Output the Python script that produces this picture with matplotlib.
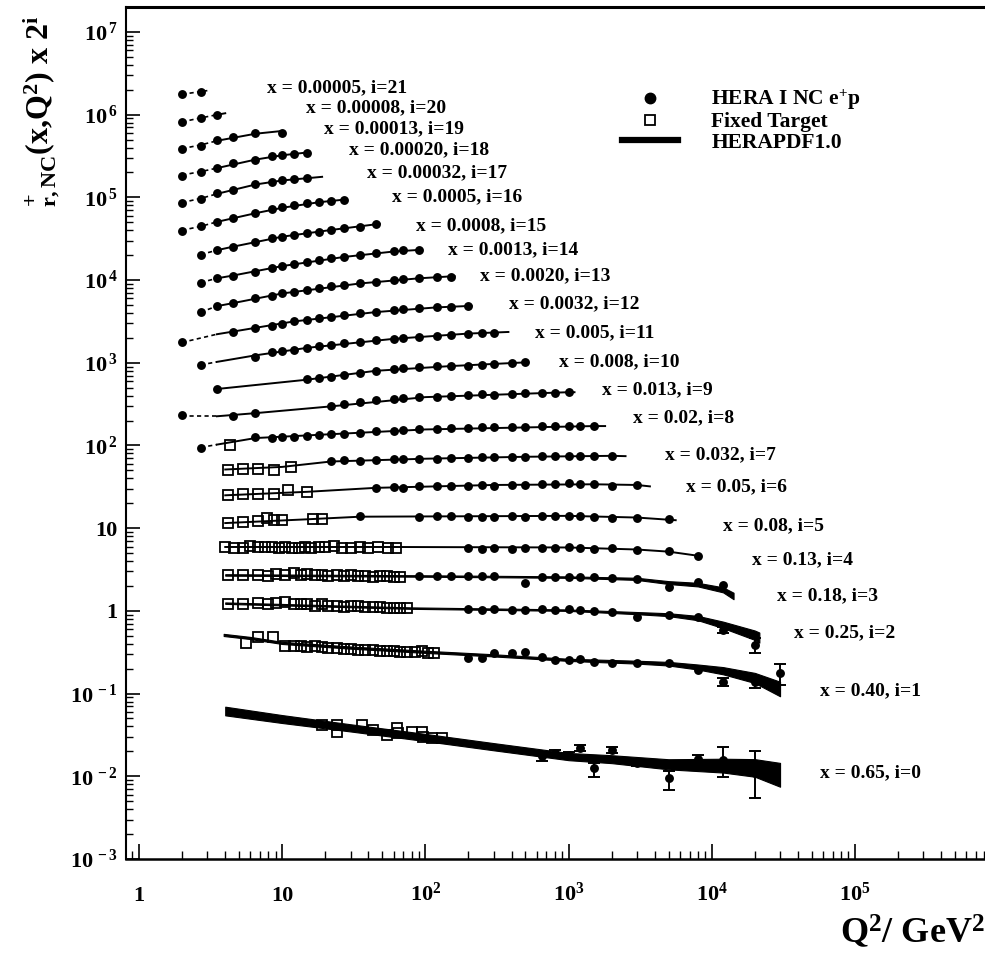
import numpy as np
import matplotlib
matplotlib.use('Agg')
import matplotlib.pyplot as plt
from matplotlib.lines import Line2D
from matplotlib.ticker import LogLocator, NullFormatter

plt.rcParams['font.family'] = ['Liberation Serif', 'DejaVu Serif']
plt.rcParams['font.weight'] = 'bold'
plt.rcParams['axes.labelweight'] = 'bold'
plt.rcParams['mathtext.fontset'] = 'custom'
plt.rcParams['mathtext.rm'] = 'Liberation Serif:bold'
plt.rcParams['mathtext.it'] = 'Liberation Serif:bold'
plt.rcParams['mathtext.bf'] = 'Liberation Serif:bold'
plt.rcParams['mathtext.default'] = 'rm'

# x values of the bins, i = 0 .. 21
bin_x = ['0.65', '0.40', '0.25', '0.18', '0.13', '0.08', '0.05', '0.032', '0.02',
         '0.013', '0.008', '0.005', '0.0032', '0.0020', '0.0013', '0.0008', '0.0005',
         '0.00032', '0.00020', '0.00013', '0.00008', '0.00005']

# ---- HERA I NC e+p (Q2, sigma_r) ----
hq21 = [2, 2.7]
hs21 = [0.84, 0.90]
hq20 = [2, 2.7, 3.5]
hs20 = [0.78, 0.87, 0.95]
hq19 = [2, 2.7, 3.5, 4.5, 6.5, 10]
hs19 = [0.73, 0.80, 0.93, 1.02, 1.14, 1.14]
hq18 = [2, 2.7, 3.5, 4.5, 6.5, 8.5, 10, 12, 15]
hs18 = [0.70, 0.78, 0.86, 0.98, 1.09, 1.19, 1.24, 1.29, 1.32]
hq17 = [2, 2.7, 3.5, 4.5, 6.5, 8.5, 10, 12, 15]
hs17 = [0.65, 0.73, 0.86, 0.94, 1.10, 1.18, 1.23, 1.27, 1.30]
hq16 = [2, 2.7, 3.5, 4.5, 6.5, 8.5, 10, 12, 15, 18, 22, 27]
hs16 = [0.60, 0.68, 0.77, 0.85, 0.98, 1.09, 1.16, 1.23, 1.30, 1.35, 1.37, 1.42]
hq15 = [2.7, 3.5, 4.5, 6.5, 8.5, 10, 12, 15, 18, 22, 27, 35, 45]
hs15 = [0.61, 0.71, 0.76, 0.89, 0.98, 1.01, 1.07, 1.12, 1.17, 1.23, 1.29, 1.35, 1.44]
hq14 = [2.7, 3.5, 4.5, 6.5, 8.5, 10, 12, 15, 18, 22, 27, 35, 45, 60, 70, 90]
hs14 = [0.56, 0.64, 0.69, 0.77, 0.85, 0.90, 0.96, 1.02, 1.07, 1.12, 1.15, 1.23, 1.29, 1.36, 1.39, 1.41]
hq13 = [2.7, 3.5, 4.5, 6.5, 8.5, 10, 12, 15, 18, 22, 27, 35, 45, 60, 70, 90, 120, 150]
hs13 = [0.50, 0.59, 0.64, 0.74, 0.79, 0.85, 0.88, 0.93, 0.97, 1.02, 1.07, 1.12, 1.17, 1.22, 1.25, 1.28, 1.32, 1.34]
hq12 = [2, 4.5, 6.5, 8.5, 10, 12, 15, 18, 22, 27, 35, 45, 60, 70, 90, 120, 150, 200]
hs12 = [0.43, 0.58, 0.64, 0.67, 0.72, 0.77, 0.81, 0.84, 0.88, 0.92, 0.97, 1.00, 1.06, 1.08, 1.11, 1.14, 1.16, 1.19]
hq11 = [2.7, 6.5, 8.5, 10, 12, 15, 18, 22, 27, 35, 45, 60, 70, 90, 120, 150, 200, 250, 300]
hs11 = [0.46, 0.58, 0.65, 0.68, 0.70, 0.73, 0.78, 0.80, 0.84, 0.87, 0.91, 0.95, 0.97, 1.01, 1.04, 1.06, 1.10, 1.12, 1.13]
hq10 = [3.5, 15, 18, 22, 27, 35, 45, 60, 70, 90, 120, 150, 200, 250, 300, 400, 500]
hs10 = [0.47, 0.62, 0.64, 0.66, 0.69, 0.74, 0.78, 0.82, 0.84, 0.86, 0.88, 0.89, 0.90, 0.92, 0.93, 0.96, 0.99]
hq9 = [2, 4.5, 6.5, 22, 27, 35, 45, 60, 70, 90, 120, 150, 200, 250, 300, 400, 500, 650, 800, 1000]
hs9 = [0.46, 0.44, 0.48, 0.58, 0.62, 0.66, 0.69, 0.71, 0.73, 0.75, 0.76, 0.78, 0.80, 0.81, 0.80, 0.82, 0.835, 0.845, 0.85, 0.86]
hq8 = [2.7, 6.5, 8.5, 10, 12, 15, 18, 22, 27, 35, 45, 60, 70, 90, 120, 150, 200, 250, 300, 400, 500, 650, 800, 1000, 1200, 1500]
hs8 = [0.365, 0.495, 0.48, 0.50, 0.49, 0.51, 0.52, 0.53, 0.54, 0.56, 0.58, 0.59, 0.60, 0.61, 0.62, 0.63, 0.64, 0.645, 0.65, 0.655, 0.66, 0.665, 0.67, 0.675, 0.68, 0.67]
hq7 = [22, 27, 35, 45, 60, 70, 90, 120, 150, 200, 250, 300, 400, 500, 650, 800, 1000, 1200, 1500, 2000]
hs7 = [0.50, 0.52, 0.51, 0.52, 0.53, 0.53, 0.54, 0.54, 0.55, 0.55, 0.56, 0.56, 0.57, 0.57, 0.58, 0.58, 0.58, 0.59, 0.58, 0.58]
hq6 = [45, 60, 70, 90, 120, 150, 200, 250, 300, 400, 500, 650, 800, 1000, 1200, 1500, 2000, 3000]
hs6 = [0.48, 0.49, 0.48, 0.50, 0.50, 0.51, 0.51, 0.52, 0.51, 0.52, 0.52, 0.53, 0.53, 0.55, 0.53, 0.54, 0.51, 0.52]
hq5 = [35, 90, 120, 150, 200, 250, 300, 400, 500, 650, 800, 1000, 1200, 1500, 2000, 3000, 5000]
hs5 = [0.44, 0.43, 0.44, 0.44, 0.43, 0.43, 0.43, 0.44, 0.43, 0.44, 0.44, 0.44, 0.44, 0.43, 0.42, 0.42, 0.40]
hq4 = [200, 250, 300, 400, 500, 650, 800, 1000, 1200, 1500, 2000, 3000, 5000, 8000]
hs4 = [0.36, 0.35, 0.36, 0.35, 0.36, 0.36, 0.36, 0.37, 0.36, 0.35, 0.36, 0.34, 0.33, 0.29]
hq3 = [90, 120, 150, 200, 250, 300, 500, 650, 800, 1000, 1200, 1500, 2000, 3000, 5000, 8000, 12000]
hs3 = [0.33, 0.33, 0.33, 0.33, 0.33, 0.33, 0.27, 0.32, 0.32, 0.32, 0.32, 0.32, 0.31, 0.30, 0.24, 0.28, 0.26]
hq2 = [200, 250, 300, 400, 500, 650, 800, 1000, 1200, 1500, 2000, 3000, 5000, 8000, 12000, 20000]
hs2 = [0.26, 0.255, 0.26, 0.255, 0.255, 0.26, 0.255, 0.26, 0.255, 0.25, 0.245, 0.21, 0.22, 0.21, 0.147, 0.097]
he2 = [0, 0, 0, 0, 0, 0, 0, 0, 0, 0, 0, 0, 0, 0, 0.012, 0.02]
hq1 = [200, 250, 300, 400, 500, 650, 800, 1000, 1200, 1500, 2000, 3000, 5000, 8000, 12000, 20000, 30000]
hs1 = [0.135, 0.134, 0.155, 0.156, 0.16, 0.14, 0.127, 0.127, 0.13, 0.122, 0.117, 0.117, 0.117, 0.096, 0.069, 0.069, 0.089]
he1 = [0, 0, 0, 0, 0, 0, 0, 0, 0, 0, 0, 0, 0, 0, 0.008, 0.01, 0.025]
hq0 = [650, 800, 1000, 1200, 1500, 2000, 3000, 5000, 8000, 12000, 20000]
hs0 = [0.0175, 0.019, 0.0181, 0.022, 0.0126, 0.0208, 0.0145, 0.0095, 0.0162, 0.0158, 0.011]
he0_lo = [0.002, 0.002, 0.0015, 0.002, 0.0028, 0.0015, 0.001, 0.0027, 0.0034, 0.006, 0.0055]
he0_hi = [0.002, 0.002, 0.0015, 0.002, 0.002, 0.0015, 0.001, 0.002, 0.0021, 0.007, 0.0094]

# ---- Fixed target (Q2, sigma_r) ----
fq8 = [4.3]
fs8 = [0.40]
fq7 = [4.2, 5.3, 6.8, 8.7, 11.5]
fs7 = [0.395, 0.40, 0.40, 0.395, 0.43]
fq6 = [4.2, 5.3, 6.8, 8.7, 11, 15]
fs6 = [0.39, 0.40, 0.40, 0.41, 0.45, 0.43]
fq5 = [4.2, 5.3, 6.8, 7.8, 8.7, 10, 16.5, 19]
fs5 = [0.36, 0.37, 0.38, 0.41, 0.39, 0.39, 0.40, 0.40]
fq4 = [4.0, 4.6, 5.3, 6.0, 6.8, 7.6, 8.5, 9.5, 10.5, 11.7, 13, 14.5, 16, 18, 20, 23, 26, 30, 35, 40, 47, 55, 62]
fs4 = [0.37, 0.36, 0.36, 0.38, 0.37, 0.37, 0.37, 0.36, 0.37, 0.36, 0.36, 0.37, 0.36, 0.37, 0.37, 0.38, 0.36, 0.36, 0.37, 0.36, 0.37, 0.36, 0.36]
fq3 = [4.2, 5.3, 6.8, 8, 9, 10.5, 12, 13.5, 15, 17, 19, 21, 24, 27, 30, 34, 38, 43, 48, 54, 60, 67]
fs3 = [0.34, 0.34, 0.34, 0.33, 0.35, 0.34, 0.36, 0.34, 0.35, 0.34, 0.34, 0.33, 0.34, 0.33, 0.34, 0.33, 0.33, 0.32, 0.33, 0.33, 0.32, 0.32]
fq2 = [4.2, 5.3, 6.8, 8, 9, 10.5, 12, 13.5, 15, 17, 19, 21, 24, 27, 30, 34, 38, 43, 48, 54, 60, 67, 75]
fs2 = [0.30, 0.30, 0.31, 0.30, 0.31, 0.32, 0.30, 0.30, 0.30, 0.29, 0.30, 0.29, 0.29, 0.28, 0.29, 0.29, 0.28, 0.28, 0.28, 0.27, 0.27, 0.27, 0.27]
fq1 = [5.6, 6.8, 8.6, 10.5, 12, 13.5, 15, 17, 19, 21, 24, 27, 30, 34, 38, 43, 48, 54, 60, 67, 75, 84, 95, 105, 115]
fs1 = [0.205, 0.242, 0.242, 0.19, 0.19, 0.19, 0.185, 0.19, 0.183, 0.18, 0.18, 0.175, 0.175, 0.17, 0.17, 0.168, 0.165, 0.165, 0.163, 0.16, 0.16, 0.158, 0.163, 0.156, 0.155]
fq0 = [19, 24, 24, 36, 43, 54, 63, 64, 81, 95, 96, 112, 131]
fs0 = [0.0417, 0.0417, 0.0343, 0.0417, 0.0363, 0.0314, 0.0384, 0.0333, 0.0343, 0.0343, 0.0298, 0.029, 0.029]

# ---- HERAPDF1.0 (Q2 nodes, sigma_r, relative band half width) ----
tq21 = [2, 3.0]
ts21 = [0.84, 0.93]
tq20 = [2, 2.7, 3.5, 4.0]
ts20 = [0.78, 0.87, 0.95, 0.99]
tq19 = [2, 2.7, 3.5, 6.5, 10]
ts19 = [0.74, 0.82, 0.92, 1.12, 1.21]
tq18 = [2, 2.7, 3.5, 6.5, 10, 15]
ts18 = [0.71, 0.78, 0.86, 1.09, 1.23, 1.33]
tq17 = [2, 2.7, 3.5, 6.5, 10, 15, 19]
ts17 = [0.66, 0.74, 0.84, 1.09, 1.22, 1.30, 1.35]
tq16 = [2, 2.7, 3.5, 6.5, 10, 18, 28]
ts16 = [0.61, 0.68, 0.77, 0.98, 1.14, 1.33, 1.44]
tq15 = [2.7, 3.5, 4.5, 10, 22, 48]
ts15 = [0.62, 0.70, 0.77, 1.02, 1.23, 1.46]
tq14 = [2.7, 3.5, 4.5, 10, 27, 60, 95]
ts14 = [0.57, 0.64, 0.69, 0.90, 1.16, 1.35, 1.42]
tq13 = [2.7, 3.5, 4.5, 10, 35, 90, 160]
ts13 = [0.50, 0.59, 0.64, 0.84, 1.11, 1.28, 1.36]
tq12 = [2, 3.5, 4.5, 12, 45, 120, 210]
ts12 = [0.43, 0.54, 0.58, 0.77, 1.00, 1.14, 1.19]
tq11 = [2.7, 3.5, 6.5, 15, 60, 200, 380]
ts11 = [0.46, 0.50, 0.60, 0.74, 0.95, 1.10, 1.15]
tq10 = [3.5, 15, 45, 150, 520]
ts10 = [0.47, 0.61, 0.78, 0.89, 0.99]
tq9 = [2, 3.5, 6.5, 22, 100, 1000, 1100]
ts9 = [0.44, 0.44, 0.48, 0.58, 0.75, 0.86, 0.86]
tq8 = [2.7, 3.5, 6.5, 20, 100, 1500, 1800]
ts8 = [0.37, 0.40, 0.48, 0.53, 0.61, 0.67, 0.67]
tq7 = [4, 10, 22, 100, 500, 2000, 2500]
ts7 = [0.40, 0.43, 0.50, 0.54, 0.57, 0.585, 0.58]
tq6 = [4, 15, 45, 300, 1500, 3000, 3700]
ts6 = [0.39, 0.43, 0.48, 0.52, 0.53, 0.52, 0.50]
tq5 = [4, 15, 35, 1000, 3000, 5600]
ts5 = [0.36, 0.40, 0.43, 0.44, 0.42, 0.39]
tq4 = [4, 60, 1000, 3000, 5000, 8000]
ts4 = [0.37, 0.37, 0.365, 0.345, 0.325, 0.29]
tq3 = [4, 100, 1000, 3000, 5000, 8000, 12000, 14200]
ts3 = [0.34, 0.33, 0.32, 0.305, 0.275, 0.26, 0.225, 0.19]
tw3 = [0.02, 0.02, 0.02, 0.03, 0.04, 0.05, 0.07, 0.09]
tq2 = [4, 80, 1000, 3000, 5000, 8000, 12000, 20000, 21500]
ts2 = [0.31, 0.27, 0.255, 0.235, 0.225, 0.205, 0.17, 0.128, 0.12]
tw2 = [0.02, 0.02, 0.02, 0.03, 0.04, 0.06, 0.09, 0.13, 0.14]
tq1 = [3.9, 6, 10, 30, 100, 300, 1000, 3000, 5000, 8000, 12000, 20000, 30000]
ts1 = [0.256, 0.235, 0.205, 0.18, 0.16, 0.145, 0.128, 0.12, 0.115, 0.105, 0.095, 0.078, 0.058]
tw1 = [0.03, 0.03, 0.03, 0.03, 0.03, 0.03, 0.03, 0.04, 0.05, 0.07, 0.10, 0.14, 0.20]
tq0 = [4, 10, 30, 100, 300, 1000, 2000, 5000, 12000, 20000, 30000]
ts0 = [0.062, 0.0495, 0.0387, 0.0296, 0.0229, 0.0174, 0.0162, 0.0141, 0.0137, 0.013, 0.011]
tw0 = [0.12, 0.11, 0.10, 0.10, 0.10, 0.10, 0.11, 0.14, 0.19, 0.24, 0.32]

hera_q = [hq0, hq1, hq2, hq3, hq4, hq5, hq6, hq7, hq8, hq9, hq10, hq11, hq12, hq13, hq14, hq15, hq16, hq17, hq18, hq19, hq20, hq21]
hera_s = [hs0, hs1, hs2, hs3, hs4, hs5, hs6, hs7, hs8, hs9, hs10, hs11, hs12, hs13, hs14, hs15, hs16, hs17, hs18, hs19, hs20, hs21]
hera_err = {0: (he0_lo, he0_hi), 1: (he1, he1), 2: (he2, he2)}
fixed = {0: (fq0, fs0), 1: (fq1, fs1), 2: (fq2, fs2), 3: (fq3, fs3), 4: (fq4, fs4),
         5: (fq5, fs5), 6: (fq6, fs6), 7: (fq7, fs7), 8: (fq8, fs8)}
theory_q = [tq0, tq1, tq2, tq3, tq4, tq5, tq6, tq7, tq8, tq9, tq10, tq11, tq12, tq13, tq14, tq15, tq16, tq17, tq18, tq19, tq20, tq21]
theory_s = [ts0, ts1, ts2, ts3, ts4, ts5, ts6, ts7, ts8, ts9, ts10, ts11, ts12, ts13, ts14, ts15, ts16, ts17, ts18, ts19, ts20, ts21]
theory_w = {0: tw0, 1: tw1, 2: tw2, 3: tw3}

# label anchors (pixels: left edge, vertical centre), i = 0 .. 21
label_px = [(820, 773), (820, 691), (794, 633), (777, 596), (752, 560), (723, 526),
            (686, 487), (665, 455), (633, 418), (602, 390), (559, 362), (535, 333),
            (509, 304), (480, 276), (448, 250), (416, 226), (392, 197), (367, 173),
            (349, 150), (324, 129), (306, 108), (267, 88)]

W, H = 985, 956
L, R, T, B = 126, 985, 7, 859

fig = plt.figure(figsize=(W / 100, H / 100), dpi=100)
ax = fig.add_axes([L / W, 1 - B / H, (R - L) / W, (B - T) / H])
ax.set_xscale('log')
ax.set_yscale('log')
ax.set_xlim(0.811, 8.1e5)
ax.set_ylim(1e-3, 2.0e7)

for i in range(22):
    scale = 2.0 ** i
    tq = np.array(theory_q[i], dtype=float)
    ty = np.array(theory_s[i]) * scale
    low = tq <= 3.5
    high = tq >= 3.5
    if low.sum() >= 2:
        ax.plot(tq[low], ty[low], color='k', lw=1.2, ls=(0, (2.5, 2)), zorder=2)
    if high.sum() >= 2:
        if i in theory_w:
            w = np.array(theory_w[i])
            ax.fill_between(tq[high], ty[high] * (1 - w[high]), ty[high] * (1 + w[high]),
                            color='k', lw=0.8, zorder=2)
        else:
            ax.plot(tq[high], ty[high], color='k', lw=1.4, zorder=2)

    if i in fixed:
        fq, fs = fixed[i]
        ax.plot(fq, np.array(fs) * scale, 's', ms=7.5, mfc='none', mec='k', mew=1.3, zorder=3)

    hq = np.array(hera_q[i], dtype=float)
    hy = np.array(hera_s[i]) * scale
    if i in hera_err:
        lo = np.array(hera_err[i][0]) * scale
        hi = np.array(hera_err[i][1]) * scale
        m = (lo > 0) | (hi > 0)
        ax.errorbar(hq[m], hy[m], yerr=[lo[m], hi[m]], fmt='none', ecolor='k',
                    elinewidth=1.4, capsize=4, capthick=1.4, zorder=4)
    ax.plot(hq, hy, 'o', color='k', ms=6.4, mew=0, zorder=5)

    px, py = label_px[i]
    ax.text((px - L) / (R - L), (B - py) / (B - T), f'x = {bin_x[i]}, i={i}',
            transform=ax.transAxes, ha='left', va='center', fontsize=14, fontweight='bold')

# axes styling
ax.spines['right'].set_visible(False)
ax.spines['top'].set_linewidth(2.2)
ax.spines['left'].set_linewidth(1.5)
ax.spines['bottom'].set_linewidth(1.8)

xt = [1, 10, 1e2, 1e3, 1e4, 1e5]
xt_labels = ['1', '10', '$10^{2}$', '$10^{3}$', '$10^{4}$', '$10^{5}$']
yt = [1e-3, 1e-2, 1e-1, 1, 10, 1e2, 1e3, 1e4, 1e5, 1e6, 1e7]
yt_labels = ['$10^{\\,-3}$', '$10^{\\,-2}$', '$10^{\\,-1}$', '1', '10', '$10^{\\,2}$',
             '$10^{\\,3}$', '$10^{\\,4}$', '$10^{\\,5}$', '$10^{\\,6}$', '$10^{\\,7}$']
ax.set_xticks(xt, xt_labels)
ax.set_yticks(yt, yt_labels)
ax.xaxis.set_minor_locator(LogLocator(base=10, subs=np.arange(2, 10), numticks=100))
ax.yaxis.set_minor_locator(LogLocator(base=10, subs=np.arange(2, 10), numticks=100))
ax.xaxis.set_minor_formatter(NullFormatter())
ax.yaxis.set_minor_formatter(NullFormatter())
ax.tick_params(axis='x', which='major', direction='in', length=11, width=1.2, pad=30,
               labelsize=16, top=False)
ax.tick_params(axis='x', which='minor', direction='in', length=5.5, width=1.0, top=False)
ax.tick_params(axis='y', which='major', direction='in', length=10, width=1.2, pad=6,
               labelsize=16, right=False)
ax.tick_params(axis='y', which='minor', direction='in', length=5, width=1.0, right=False)
for lab in ax.get_xticklabels():
    lab.set_verticalalignment('baseline')

ax.set_ylabel(r'${}^{+}_{\mathrm{r,NC}}$(x,Q$^{2}$) x 2$^{\mathrm{i}}$', fontsize=23,
              fontweight='bold')
ax.yaxis.set_label_coords(-0.075, 0.878)
ax.set_xlabel(r'Q$^{2}$/ GeV$^{2}$', fontsize=26, fontweight='bold', loc='right')
ax.xaxis.set_label_coords(1.0, -0.064)

handles = [Line2D([], [], ls='none', marker='o', color='k', ms=7.5),
           Line2D([], [], ls='none', marker='s', mfc='none', mec='k', mew=1.3, ms=7.5),
           Line2D([], [], color='k', lw=4.5)]
labels = ['HERA I NC e$^{+}$p', 'Fixed Target', 'HERAPDF1.0']
ax.legend(handles, labels, loc='upper left',
          bbox_to_anchor=((622 - L) / (R - L), (B - 88) / (B - T)),
          frameon=False, fontsize=15.5, handlelength=2.6, handletextpad=1.55,
          labelspacing=0.0, borderpad=0, borderaxespad=0)

fig.savefig('out.png', dpi=100)
